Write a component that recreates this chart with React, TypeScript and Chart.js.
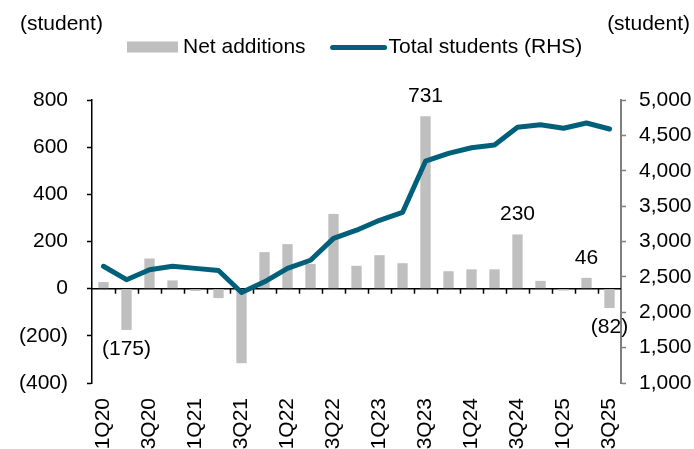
import React, { useEffect, useRef } from "react";
import { Chart, registerables } from "chart.js";

Chart.register(...registerables);

const categories = [
  "1Q20", "2Q20", "3Q20", "4Q20",
  "1Q21", "2Q21", "3Q21", "4Q21",
  "1Q22", "2Q22", "3Q22", "4Q22",
  "1Q23", "2Q23", "3Q23", "4Q23",
  "1Q24", "2Q24", "3Q24", "4Q24",
  "1Q25", "2Q25", "3Q25",
];

const netAdditions = [
  28, -175, 128, 35,
  -10, -40, -316, 155,
  189, 105, 317, 97,
  142, 108, 731, 74,
  82, 82, 230, 33,
  -8, 46, -82,
];

const totalStudents = [
  2650, 2460, 2600, 2650,
  2620, 2590, 2280, 2430,
  2620, 2735, 3045, 3160,
  3300, 3410, 4135, 4245,
  4325, 4365, 4615, 4650,
  4600, 4675, 4590,
];

const labelledBars = [1, 14, 18, 21, 22];

const leftMin = -400;
const leftMax = 800;
const leftStep = 200;
const rightMin = 1000;
const rightMax = 5000;
const rightStep = 500;

const unitLabel = "(student)";
const barLabel = "Net additions";
const lineLabel = "Total students (RHS)";

const FONT = "'Liberation Sans', Arial, Helvetica, sans-serif";
const FS = 21;
const BAR_COLOR = "#BFBFBF";
const LINE_COLOR = "#00607A";

const fmtLeft = (v: number) => (v < 0 ? `(${Math.abs(v)})` : `${v}`);
const fmtRight = (v: number) => v.toLocaleString("en-US");

const zeroAxisPlugin = {
  id: "zeroAxis",
  beforeDatasetsDraw(chart: any) {
    const { ctx, chartArea, scales } = chart;
    const y = scales.y.getPixelForValue(0);
    const xs = scales.x;
    const half = (xs.getPixelForValue(1) - xs.getPixelForValue(0)) / 2;
    ctx.save();
    ctx.strokeStyle = "#000";
    ctx.lineWidth = 1.5;
    ctx.beginPath();
    ctx.moveTo(chartArea.left, y);
    ctx.lineTo(chartArea.right, y);
    for (let i = 1; i < categories.length; i++) {
      const x = Math.round(xs.getPixelForValue(i) - half) + 0.5;
      ctx.moveTo(x, y);
      ctx.lineTo(x, y + 5);
    }
    ctx.stroke();
    ctx.restore();
  },
};

const dataLabelPlugin = {
  id: "dataLabels",
  afterDatasetsDraw(chart: any) {
    const { ctx } = chart;
    const meta = chart.getDatasetMeta(0);
    ctx.save();
    ctx.font = `${FS}px ${FONT}`;
    ctx.fillStyle = "#000";
    ctx.textAlign = "center";
    ctx.textBaseline = "alphabetic";
    labelledBars.forEach((i) => {
      const el = meta.data[i];
      const v = netAdditions[i];
      const yy = v >= 0 ? el.y - 14 : el.y + 25;
      ctx.fillText(fmtLeft(v), el.x, yy);
    });
    ctx.restore();
  },
};

const headerPlugin = {
  id: "header",
  afterDraw(chart: any) {
    const { ctx, width } = chart;
    ctx.save();
    ctx.font = `${FS}px ${FONT}`;
    ctx.fillStyle = "#000";
    ctx.textBaseline = "middle";
    ctx.textAlign = "left";
    ctx.fillText(unitLabel, 20, 24);
    ctx.textAlign = "right";
    ctx.fillText(unitLabel, width - 4, 24);

    // legend
    const ly = 47;
    ctx.fillStyle = BAR_COLOR;
    ctx.fillRect(127, ly - 5.5, 51, 11);
    ctx.fillStyle = "#000";
    ctx.textAlign = "left";
    ctx.fillText(barLabel, 183, ly);
    const textW = ctx.measureText(barLabel).width;
    const lx = 183 + textW + 27;
    ctx.strokeStyle = LINE_COLOR;
    ctx.lineWidth = 5;
    ctx.lineCap = "round";
    ctx.beginPath();
    ctx.moveTo(lx, ly + 0.5);
    ctx.lineTo(lx + 52, ly + 0.5);
    ctx.stroke();
    ctx.fillText(lineLabel, lx + 56, ly);
    ctx.restore();
  },
};

export default function App() {
  const ref = useRef<HTMLCanvasElement | null>(null);

  useEffect(() => {
    if (!ref.current) return;
    Chart.defaults.font.family = FONT;
    Chart.defaults.color = "#000";
    const chart = new Chart(ref.current, {
      type: "bar",
      data: {
        labels: categories,
        datasets: [
          {
            type: "bar",
            label: barLabel,
            data: netAdditions,
            backgroundColor: BAR_COLOR,
            borderWidth: 0,
            barPercentage: 0.45,
            categoryPercentage: 1,
            yAxisID: "y",
            order: 2,
          },
          {
            type: "line",
            label: lineLabel,
            data: totalStudents,
            borderColor: LINE_COLOR,
            backgroundColor: LINE_COLOR,
            borderWidth: 5,
            pointRadius: 0,
            tension: 0,
            borderJoinStyle: "round",
            borderCapStyle: "round",
            yAxisID: "y1",
            order: 1,
          } as any,
        ],
      },
      options: {
        responsive: false,
        animation: false,
        events: [],
        layout: { padding: { top: 100, left: 0, right: 0, bottom: 0 } },
        plugins: {
          legend: { display: false },
          title: { display: false },
          tooltip: { enabled: false },
        },
        scales: {
          x: {
            offset: true,
            grid: { display: false, drawTicks: false },
            border: { display: false },
            ticks: {
              autoSkip: false,
              minRotation: 90,
              maxRotation: 90,
              padding: 15,
              font: { size: FS, family: FONT },
              color: "#000",
              callback: (_v: any, i: number) => (i % 2 === 0 ? categories[i] : ""),
            },
            afterFit: (s: any) => {
              s.height = 66;
            },
          },
          y: {
            position: "left",
            min: leftMin,
            max: leftMax,
            grid: {
              drawOnChartArea: false,
              drawTicks: true,
              tickLength: 5,
              color: "#000",
              tickWidth: 1.5,
            },
            border: { display: true, color: "#000", width: 1.5 },
            ticks: {
              stepSize: leftStep,
              padding: 19,
              font: { size: FS, family: FONT },
              color: "#000",
              callback: (v: any) => fmtLeft(Number(v)),
            },
            afterFit: (s: any) => {
              s.width = 92;
            },
          },
          y1: {
            position: "right",
            min: rightMin,
            max: rightMax,
            grid: {
              drawOnChartArea: false,
              drawTicks: true,
              tickLength: 5,
              color: "#7F7F7F",
              tickWidth: 1.5,
            },
            border: { display: true, color: "#7F7F7F", width: 2 },
            ticks: {
              stepSize: rightStep,
              padding: 13,
              font: { size: FS, family: FONT },
              color: "#000",
              callback: (v: any) => fmtRight(Number(v)),
            },
            afterFit: (s: any) => {
              s.width = 73;
            },
          },
        },
      },
      plugins: [zeroAxisPlugin, dataLabelPlugin, headerPlugin],
    });
    return () => chart.destroy();
  }, []);

  return (
    <div style={{ position: "absolute", left: 0, top: 0, width: 694, height: 449, background: "#fff" }}>
      <canvas ref={ref} width={694} height={449} style={{ display: "block", width: 694, height: 449 }} />
    </div>
  );
}
